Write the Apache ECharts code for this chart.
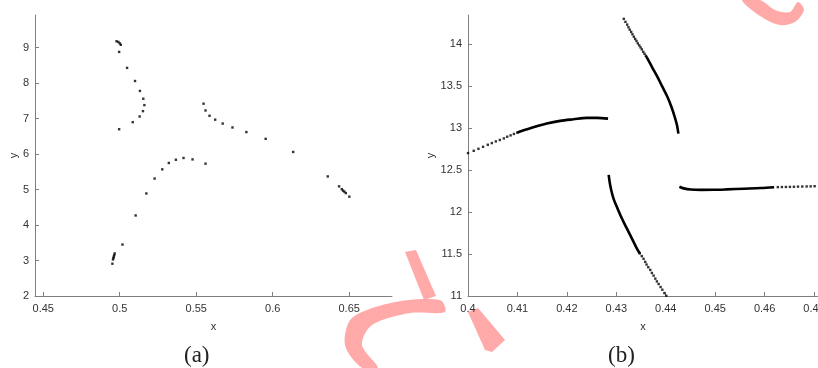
<!DOCTYPE html>
<html>
<head>
<meta charset="utf-8">
<script src="https://cdn.jsdelivr.net/npm/echarts@6/dist/echarts.min.js"></script>
<style>html,body{margin:0;padding:0;background:#fff}#c{width:818px;height:368px}</style>
</head>
<body>
<div id="c"></div>
<script>
// ---------- Panel (a) data ----------
const aX = [0.4979,0.4991,0.5000,0.5007,0.4996,0.5048,0.5100,0.5132,0.5154,0.5161,0.5152,0.5130,0.5085,0.4996,
            0.5548,0.5561,0.5587,0.5624,0.5673,0.5737,0.5828,0.5954,0.6134,0.6360,0.6434,0.6452,0.6460,0.6469,0.6478,0.6501,
            0.5561,0.5476,0.5417,0.5367,0.5321,0.5278,0.5228,0.5174,0.5104,0.5018,
            0.4967,0.4964,0.4961,0.4959,0.4956,0.4952];
const aY = [9.18,9.16,9.12,9.08,8.88,8.43,8.06,7.78,7.56,7.38,7.21,7.06,6.90,6.70,
            7.42,7.23,7.08,6.97,6.86,6.75,6.62,6.43,6.06,5.37,5.09,5.01,4.97,4.94,4.90,4.80,
            5.73,5.85,5.89,5.84,5.75,5.57,5.31,4.89,4.27,3.45,
            3.20,3.15,3.11,3.07,3.03,2.91];
const aXTicks = [0.45,0.5,0.55,0.6,0.65];
const aYTicks = [2,3,4,5,6,7,8,9];

// ---------- Panel (b) data ----------
const b1Dots = [[0.4000,12.704],[0.40116,12.731],[0.40211,12.755],[0.40305,12.779],[0.40400,12.803],[0.40482,12.823],
                [0.40563,12.843],[0.40644,12.860],[0.40726,12.879],[0.40793,12.899],[0.40862,12.915],[0.40929,12.932],[0.40996,12.948]];
const b1Line = [[0.40996,12.948],[0.41051,12.960],[0.41321,13.011],[0.41593,13.056],[0.41864,13.088],[0.42134,13.107],
                [0.42407,13.124],[0.4261,13.124],[0.42833,13.115]];
const b2Dots = [[0.43104,14.355],[0.43151,14.304],[0.43185,14.268],[0.43220,14.235],[0.43246,14.204],[0.43272,14.175],
                [0.43301,14.148],[0.43327,14.120],[0.43354,14.091],[0.43382,14.064],[0.43409,14.040],[0.43435,14.012],
                [0.43464,13.988],[0.43490,13.964],[0.43516,13.940],[0.43545,13.911],[0.43571,13.887],[0.43598,13.863]];
const b2Line = [[0.43598,13.863],[0.43626,13.836],[0.43728,13.724],[0.43829,13.616],[0.43931,13.496],[0.44033,13.376],
                [0.44114,13.256],[0.44181,13.136],[0.44228,13.035],[0.44256,12.935]];
const b3Line = [[0.42846,12.443],[0.42866,12.355],[0.42900,12.255],[0.42947,12.155],[0.43016,12.055],[0.43104,11.935],
                [0.43205,11.815],[0.43307,11.695],[0.43409,11.575],[0.43476,11.507]];
const b3Dots = [[0.43476,11.507],[0.43516,11.475],[0.43551,11.443],[0.43585,11.407],[0.43612,11.375],[0.43646,11.343],
                [0.43687,11.311],[0.43720,11.275],[0.43754,11.243],[0.43789,11.207],[0.43821,11.174],[0.43856,11.143],
                [0.43896,11.107],[0.43931,11.075],[0.43972,11.035],[0.44012,11.003]];
const b4Line = [[0.44276,12.303],[0.44364,12.283],[0.44506,12.269],[0.44709,12.265],[0.44974,12.266],[0.45238,12.271],
                [0.45589,12.279],[0.45929,12.287],[0.46193,12.297]];
const b4Dots = [[0.46268,12.298],[0.46350,12.299],[0.46431,12.300],[0.46512,12.301],[0.46593,12.302],[0.46675,12.304],
                [0.46762,12.305],[0.46850,12.306],[0.46931,12.307],[0.47012,12.309]];
const bXTicks = [0.40,0.41,0.42,0.43,0.44,0.45,0.46,0.47];
const bYTicks = [11,11.5,12,12.5,13,13.5,14];

const captions = ['(a)', '(b)'];

// ---------- chart ----------
const chart = echarts.init(document.getElementById('c'), null, {renderer: 'canvas'});
const axisColor = '#7f7f7f';
const labelColor = '#333';
const font = 'Liberation Sans, Arial, sans-serif';

function xAxis(idx, min, max, ticks, gap) {
  return {
    type: 'value', gridIndex: idx, min: min, max: max,
    name: 'x', nameLocation: 'middle', nameGap: gap,
    nameTextStyle: {color: labelColor, fontFamily: font, fontSize: 11},
    axisLine: {show: true, onZero: false, lineStyle: {color: axisColor, width: 1}},
    axisTick: {show: true, inside: true, length: 4, customValues: ticks, lineStyle: {color: axisColor}},
    axisLabel: {show: true, customValues: ticks, color: labelColor, fontFamily: font, fontSize: 11, margin: 7,
                hideOverlap: false, formatter: v => String(+(+v).toFixed(4))},
    splitLine: {show: false}
  };
}
function yAxis(idx, min, max, ticks, gap) {
  return {
    type: 'value', gridIndex: idx, min: min, max: max,
    name: 'y', nameLocation: 'middle', nameGap: gap,
    nameTextStyle: {color: labelColor, fontFamily: font, fontSize: 11},
    axisLine: {show: true, onZero: false, lineStyle: {color: axisColor, width: 1}},
    axisTick: {show: true, inside: true, length: 4, customValues: ticks, lineStyle: {color: axisColor}},
    axisLabel: {show: true, customValues: ticks, color: labelColor, fontFamily: font, fontSize: 11, margin: 6,
                formatter: v => String(+(+v).toFixed(4))},
    splitLine: {show: false}
  };
}

function dots(data, xi) {
  return {type: 'scatter', xAxisIndex: xi, yAxisIndex: xi, data: data, symbol: 'rect', symbolSize: 2.4,
          itemStyle: {color: '#000'}, silent: true, animation: false, clip: true};
}
function solid(data) {
  return {type: 'line', xAxisIndex: 1, yAxisIndex: 1, data: data, smooth: 0.3, showSymbol: false, symbol: 'none',
          lineStyle: {color: '#000', width: 2.6}, silent: true, animation: false, clip: true};
}

const wm = 'rgba(255,140,140,0.75)';
chart.setOption({
  animation: false,
  backgroundColor: '#fff',
  grid: [
    {left: 35, top: 15, width: 357, height: 281, containLabel: false, outerBoundsMode: 'none'},
    {left: 468, top: 15, width: 350, height: 281, containLabel: false, outerBoundsMode: 'none'}
  ],
  xAxis: [xAxis(0, 0.4446, 0.678, aXTicks, 25), xAxis(1, 0.4, 0.4708, bXTicks, 25)],
  yAxis: [yAxis(0, 2, 9.92, aYTicks, 13), yAxis(1, 11, 14.35, bYTicks, 31)],
  series: [
    dots(aX.map((x, i) => [x, aY[i]]), 0),
    dots(b1Dots, 1), solid(b1Line),
    dots(b2Dots, 1), solid(b2Line),
    solid(b3Line), dots(b3Dots, 1),
    solid(b4Line), dots(b4Dots, 1)
  ],
  graphic: [
    {type: 'text', left: 184, top: 344, z: 10,
     style: {text: captions[0], font: '23px "Liberation Serif", serif', fill: '#222'}},
    {type: 'text', left: 608, top: 344, z: 10,
     style: {text: captions[1], font: '23px "Liberation Serif", serif', fill: '#222'}},
    // watermark approximations
    {type: 'polygon', z: -1, shape: {smooth: 0.3, points: [[742,0],[760,0],[775,10],[790,12],[798,2],[804,10],[795,22],[780,25],[760,16]]},
     style: {fill: wm}},
    {type: 'polygon', z: -1, shape: {points: [[405,252],[416,250],[436,296],[424,300]]}, style: {fill: wm}},
    {type: 'polygon', z: -1, shape: {smooth: 0.3, points: [[440,300],[395,302],[352,318],[345,345],[362,368],[378,368],[362,345],[372,325],[410,313],[445,312]]},
     style: {fill: wm}},
    {type: 'polygon', z: -1, shape: {points: [[468,312],[478,308],[505,340],[492,352],[485,350]]}, style: {fill: wm}}
  ]
});
</script>
</body>
</html>
